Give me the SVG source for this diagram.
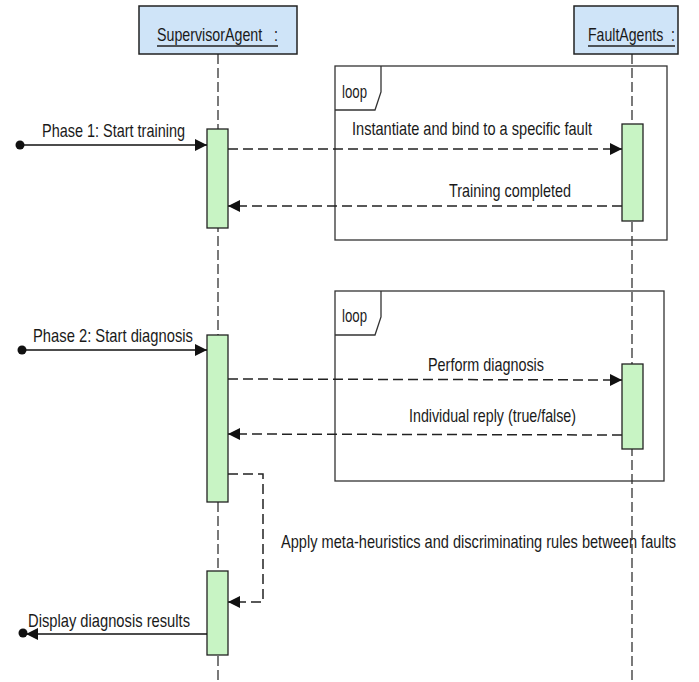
<svg xmlns="http://www.w3.org/2000/svg" width="699" height="682" viewBox="0 0 699 682">
  <style>
    .lbl { font-family: "Liberation Sans", Arial, sans-serif; font-size: 19px; fill: #1a1a1a; white-space: pre; }
    .head { fill: #cfe4f8; stroke: #222; stroke-width: 1.5; }
    .act { fill: #c8f4c4; stroke: #222; stroke-width: 1.3; }
    .life { stroke: #222; stroke-width: 1.2; stroke-dasharray: 10 4; fill: none; }
    .frame { fill: none; stroke: #333; stroke-width: 1.3; }
    .sync { stroke: #111; stroke-width: 1.5; fill: none; }
    .dash { stroke: #222; stroke-width: 1.5; stroke-dasharray: 10 5; fill: none; }
    .uline { stroke: #222; stroke-width: 1.3; }
  </style>
  <defs>
    <marker id="arrow" viewBox="0 0 12 12" refX="12" refY="6" markerWidth="12" markerHeight="12" markerUnits="userSpaceOnUse" orient="auto">
      <path d="M0,0 L12,6 L0,12 Z" fill="#111"/>
    </marker>
  </defs>
  <rect width="699" height="682" fill="#ffffff"/>

  <!-- lifelines -->
  <g id="lifelines">
    <line class="life" x1="218" y1="54" x2="218" y2="682"/>
    <line class="life" x1="632" y1="54" x2="632" y2="682"/>
  </g>

  <!-- combined fragments -->
  <g id="loop1">
    <rect class="frame" x="335" y="66" width="332" height="174"/>
    <path class="frame" d="M335,110 L375,110 L381,92 L381,66"/>
    <text class="lbl" x="342" y="98" textLength="25" lengthAdjust="spacingAndGlyphs">loop</text>
  </g>
  <g id="loop2">
    <rect class="frame" x="335" y="291" width="329" height="190"/>
    <path class="frame" d="M335,335 L375,335 L381,317 L381,291"/>
    <text class="lbl" x="342" y="322" textLength="25" lengthAdjust="spacingAndGlyphs">loop</text>
  </g>

  <!-- participants -->
  <g id="supervisor">
    <rect class="head" x="139" y="6" width="158" height="48"/>
    <text class="lbl" x="157" y="41" textLength="121" lengthAdjust="spacingAndGlyphs" xml:space="preserve">SupervisorAgent   :</text>
    <line class="uline" x1="157" y1="46" x2="278" y2="46"/>
  </g>
  <g id="faultagents">
    <rect class="head" x="574" y="6" width="104" height="48"/>
    <text class="lbl" x="588" y="41" textLength="87" lengthAdjust="spacingAndGlyphs" xml:space="preserve">FaultAgents  :</text>
    <line class="uline" x1="588" y1="46" x2="675" y2="46"/>
  </g>

  <!-- activation bars -->
  <g id="activations">
    <rect class="act" x="207" y="129" width="21" height="99"/>
    <rect class="act" x="207" y="335" width="21" height="167"/>
    <rect class="act" x="207" y="571" width="21" height="84"/>
    <rect class="act" x="622" y="124" width="21" height="97"/>
    <rect class="act" x="622" y="364" width="21" height="85"/>
  </g>

  <!-- messages -->
  <g id="connectors">
    <circle cx="20" cy="145" r="4.5" fill="#111"/>
    <line class="sync" x1="20" y1="145" x2="207" y2="145" marker-end="url(#arrow)"/>
    <line class="dash" x1="228" y1="149" x2="622" y2="149" marker-end="url(#arrow)"/>
    <line class="dash" x1="622" y1="206" x2="228" y2="206" marker-end="url(#arrow)"/>

    <circle cx="22" cy="350" r="4.5" fill="#111"/>
    <line class="sync" x1="22" y1="350" x2="207" y2="350" marker-end="url(#arrow)"/>
    <line class="dash" x1="228" y1="379" x2="622" y2="380" marker-end="url(#arrow)"/>
    <line class="dash" x1="622" y1="435" x2="228" y2="434" marker-end="url(#arrow)"/>

    <path class="dash" d="M228,474 L263,474 L263,602 L228,602" marker-end="url(#arrow)"/>

    <circle cx="23" cy="633" r="4.5" fill="#111"/>
    <line class="sync" x1="207" y1="634" x2="26" y2="634" marker-end="url(#arrow)"/>
  </g>

  <!-- message labels -->
  <g id="labels">
    <text class="lbl" x="42" y="137" textLength="143" lengthAdjust="spacingAndGlyphs">Phase 1: Start training</text>
    <text class="lbl" x="352" y="135" textLength="240" lengthAdjust="spacingAndGlyphs">Instantiate and bind to a specific fault</text>
    <text class="lbl" x="449" y="197" textLength="122" lengthAdjust="spacingAndGlyphs">Training completed</text>
    <text class="lbl" x="33" y="342" textLength="160" lengthAdjust="spacingAndGlyphs">Phase 2: Start diagnosis</text>
    <text class="lbl" x="428" y="371" textLength="116" lengthAdjust="spacingAndGlyphs">Perform diagnosis</text>
    <text class="lbl" x="409" y="422" textLength="167" lengthAdjust="spacingAndGlyphs">Individual reply (true/false)</text>
    <text class="lbl" x="281" y="548" textLength="395" lengthAdjust="spacingAndGlyphs">Apply meta-heuristics and discriminating rules between faults</text>
    <text class="lbl" x="28" y="627" textLength="162" lengthAdjust="spacingAndGlyphs">Display diagnosis results</text>
  </g>
</svg>
